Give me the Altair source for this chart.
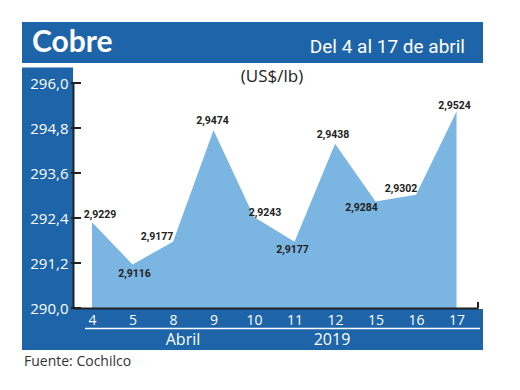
import altair as alt
import pandas as pd

# ---- data ----
days = ["4", "5", "8", "9", "10", "11", "12", "15", "16", "17"]
prices = [2.9229, 2.9116, 2.9177, 2.9474, 2.9243, 2.9177, 2.9438, 2.9284, 2.9302, 2.9524]
y_ticks = [290.0, 291.2, 292.4, 293.6, 294.8, 296.0]

BLUE = "#1d64a8"
AREA = "#7bb5e1"
DARK = "#222222"

df = pd.DataFrame({"i": list(range(len(days))), "day": days, "price": prices})
df["cents"] = df["price"] * 100
df["label"] = [f"{v:.4f}".replace(".", ",") for v in prices]

W, H = 405, 225
xs = alt.Scale(domain=[-0.47, len(days) - 1 + 0.53], nice=False, zero=False)
ys = alt.Scale(domain=[290, 296], nice=False, zero=False)

label_js = "[" + ",".join(f"'{d}'" for d in days) + "][datum.value]"

x_axis = alt.Axis(values=list(range(len(days))), labelExpr=label_js, title=None, grid=False,
                  ticks=False, tickSize=0, domainColor=DARK, domainWidth=2,
                  labelColor="white", labelFontSize=14, labelFont="Open Sans",
                  labelPadding=5, labelOverlap=False, labelFlush=False, zindex=1)
y_axis = alt.Axis(values=y_ticks, labelExpr="replace(format(datum.value,'.1f'),'.',',')",
                  title=None, grid=False, ticks=False, tickSize=0, domainColor=DARK,
                  domainWidth=2, labelColor="white", labelFontSize=15, labelFont="Open Sans",
                  labelPadding=5, labelOverlap=False, labelFlush=False, zindex=1)

base = alt.Chart(df)
deco = alt.Chart(pd.DataFrame({"k": [0]}))

def rect(x1, x2, y1, y2, color=BLUE):
    return deco.mark_rect(color=color).encode(
        x=alt.value(x1), x2=alt.value(x2), y=alt.value(y1), y2=alt.value(y2))

header = rect(-51, 410, -61, -20)
left_panel = rect(-51, 0, -15.5, 267)
bottom_bar = rect(0, 410, 226, 267)

X = alt.X("i:Q", scale=xs, axis=x_axis)
Y = alt.Y("cents:Q", scale=ys, axis=y_axis)

area = base.mark_area(color=AREA).encode(x=X, y=Y, y2=alt.datum(290))

tick_df = pd.DataFrame({"cents": y_ticks})
yticks = alt.Chart(tick_df).mark_rule(color=DARK, strokeWidth=2).encode(
    y=Y, x=alt.value(-2), x2=alt.value(8))

end_tick = deco.mark_rule(color=DARK, strokeWidth=2).encode(
    x=alt.value(W), y=alt.value(H - 6), y2=alt.value(H))

sep = deco.mark_rule(color="white", strokeWidth=1.5).encode(
    x=alt.value(12), x2=alt.value(407), y=alt.value(245.5))

def txt(s, x, y, size, color="white", align="left", baseline="alphabetic",
        font="Open Sans", weight="normal"):
    return deco.mark_text(text=s, fontSize=size, color=color, align=align,
                          baseline=baseline, font=font, fontWeight=weight).encode(
        x=alt.value(x), y=alt.value(y))

title = txt("Cobre", -41, -31.5, 30, font="Lato", weight="bold")
subtitle = txt("Del 4 al 17 de abril", 392, -30, 19, align="right", font="Roboto")
unit = txt("(US$/lb)", 199, -6.5, 17, color=DARK, align="center", baseline="middle")
month = txt("Abril", 110, 262, 16, align="center")
year = txt("2019", 259, 262, 16, align="center")
source = txt("Fuente: Cochilco", -49, 283, 14, color="#333333")

# label offsets (dx, dy) from each point
offsets = {0: (8, -7), 1: (2, 9), 2: (-16, -5), 3: (-1, -9), 4: (11, -4),
           5: (-2, 8), 6: (-2, -9), 7: (-14, 6), 8: (-15, -6), 9: (-2, -6)}
labels = []
for k, (dx, dy) in offsets.items():
    labels.append(
        base.transform_filter(alt.datum.i == k).mark_text(
            font="Roboto", fontWeight="bold", fontSize=10.5, color=DARK,
            align="center", baseline="middle", dx=dx, dy=dy).encode(
            x=X, y=Y, text="label:N")
    )

chart = alt.layer(
    header, left_panel, bottom_bar, area, yticks, end_tick, sep,
    title, subtitle, unit, month, year, source, *labels
).properties(
    width=W, height=H,
    padding={"left": 65, "top": 75, "right": 34, "bottom": 74},
    autosize=alt.AutoSizeParams(type="none"),
    background="white",
).configure_view(stroke=None)

chart.save("out.html", embed_options={"renderer": "svg", "actions": False})
